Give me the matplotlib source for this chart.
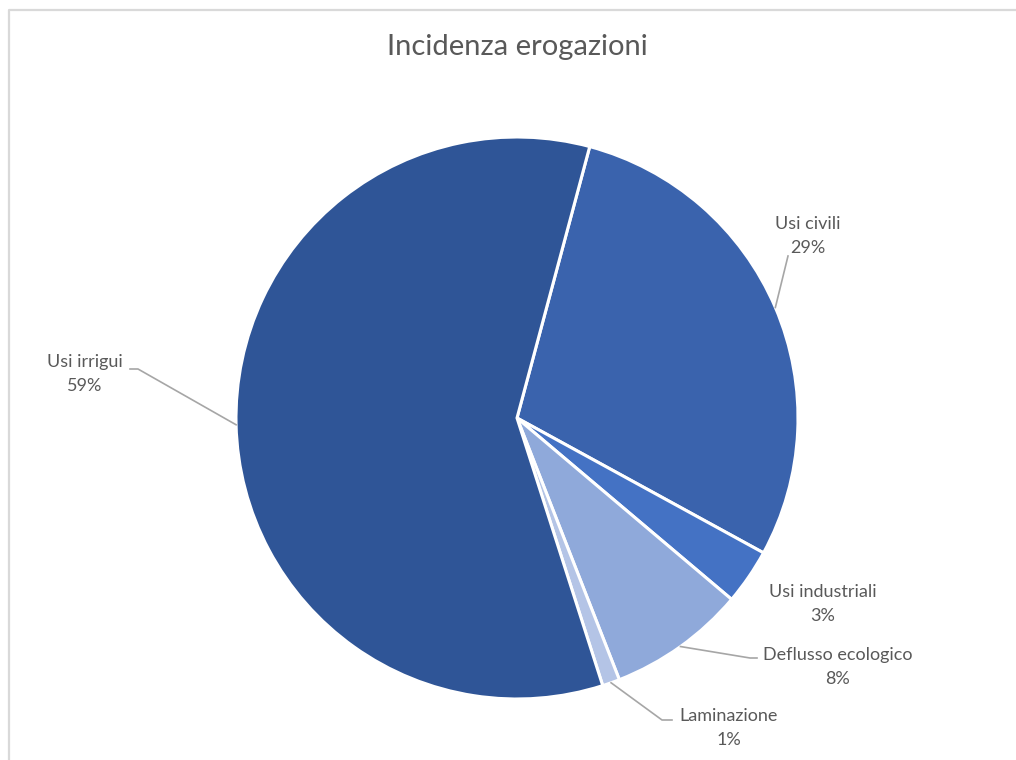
import matplotlib.pyplot as plt
import numpy as np

# Dati
categorie = ['Usi civili', 'Usi industriali', 'Deflusso ecologico', 'Laminazione', 'Usi irrigui']
valori = [28.8, 3.2, 7.9, 1.0, 59.1]
colori = ['#3A63AD', '#4472C4', '#8FA9DA', '#B4C4E6', '#2F5597']

W, H = 1016, 760
plt.rcParams['font.family'] = ['Lato', 'DejaVu Sans']

fig = plt.figure(figsize=(W / 100, H / 100), dpi=100)
ax = fig.add_axes([0, 0, 1, 1])
ax.set_xlim(0, W)
ax.set_ylim(0, H)
ax.set_aspect('equal')
ax.axis('off')

# Bordo del grafico
ax.plot([9, 9, W], [0, H - 9.5, H - 9.5], color='#D9D9D9', lw=1.6, solid_capstyle='butt')

cx, cy, r = 517, H - 418, 281
wedges, _ = ax.pie(valori, colors=colori, startangle=75, counterclock=False,
                   center=(cx, cy), radius=r,
                   wedgeprops=dict(edgecolor='white', linewidth=2.2))
ax.set_xlim(0, W)
ax.set_ylim(0, H)

testo = '#595959'
ax.text(cx, H - 47, 'Incidenza erogazioni', ha='center', va='center', fontsize=21, color=testo)

# Posizioni etichette (pixel) e gomiti delle linee guida
pos_etichette = [(808, 236), (823, 604), (838, 667), (729, 728), (85, 374)]
gomiti = [[(788, 256)], None, [(750, 658), (757, 658)], [(662, 720), (672, 720)], [(138, 369), (130, 369)]]

for w, nome, v, (lx, ly), g in zip(wedges, categorie, valori, pos_etichette, gomiti):
    ax.text(lx, H - ly, f'{nome}\n{v:.0f}%', ha='center', va='center', fontsize=13,
            color=testo, linespacing=1.55)
    if g is None:
        continue
    a = np.deg2rad((w.theta1 + w.theta2) / 2)
    px, py = cx + r * np.cos(a), cy + r * np.sin(a)
    xs = [px] + [p[0] for p in g]
    ys = [py] + [H - p[1] for p in g]
    ax.plot(xs, ys, color='#A6A6A6', lw=1.2)

fig.savefig('out.png', dpi=100)
